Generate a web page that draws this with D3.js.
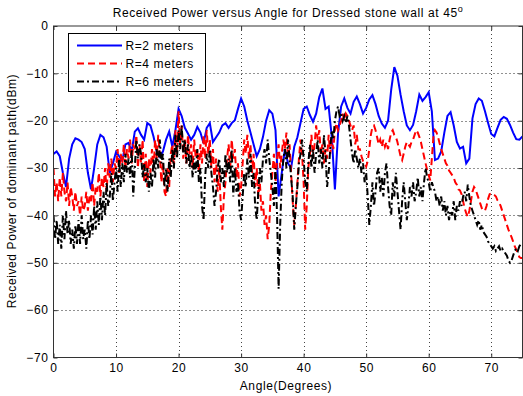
<!DOCTYPE html>
<html>
<head>
<meta charset="utf-8">
<script src="https://cdn.jsdelivr.net/npm/d3@7"></script>
<style>
html,body{margin:0;padding:0;background:#fff;}
svg{display:block;font-family:"Liberation Sans",Arial,Helvetica,sans-serif;}
</style>
</head>
<body>
<svg id="chart" width="523" height="396"></svg>
<script>
// ---------------- data ----------------
const titleText = "Received Power versus Angle for Dressed stone wall at 45";
const xLabel = "Angle(Degrees)";
const yLabel = "Received Power of dominant path(dBm)";
const seriesNames = ["R=2 meters", "R=4 meters", "R=6 meters"];
const xTicks = [0, 10, 20, 30, 40, 50, 60, 70];
const yTicks = [0, -10, -20, -30, -40, -50, -60, -70];
const xDomain = [0, 75];
const yDomain = [-70, 0];

// R=2 m, sampled every 0.5 degree from 0 to 75
const blueStep = 0.5;
const blueValues = [
 -27,-26.5,-27.5,-31,-34,-28,-25,-23.7,-24,-24.5,
 -26,-31,-34.5,-30,-25,-23,-23.5,-25.5,-31,-29,
 -26.6,-27.5,-28.5,-25,-24.7,-26.5,-22.3,-21.6,-23,-24,
 -20.5,-21,-23.4,-26.5,-27.6,-26.5,-24,-22.3,-25.5,-22,
 -17.5,-19,-21.5,-22.7,-24,-23,-21.3,-22.5,-24.8,-21.5,
 -20.5,-24.5,-23.5,-22.5,-21,-20.5,-21.5,-20.5,-19.9,-17.5,
 -15.3,-17,-20,-22.5,-25,-27.5,-26,-23.4,-20,-17.8,
 -18.5,-22,-36,-31,-26,-29,-30,-25.5,-23.5,-20.5,
 -17.5,-17,-18.8,-20.2,-18.5,-15,-13.2,-17.5,-17,-23.4,
 -34.5,-22.7,-17,-15.3,-17.3,-18.5,-16,-14.9,-16.5,-18.5,
 -17.3,-15.5,-14.6,-16.5,-19,-20.6,-21.5,-20,-13.5,-8.7,
 -10.5,-14.5,-18,-21,-22,-20.9,-18,-14.5,-15.8,-15,
 -14,-18,-28.3,-28,-26.5,-22.5,-19,-18.2,-21,-24.5,
 -25.9,-25.5,-29,-28,-19.5,-16.5,-15.3,-15.8,-18,-20.5,
 -22.8,-23.3,-21.5,-19.8,-19.2,-19.6,-20.9,-22.5,-23.9,-24,
 -23.3
];

// R=4 m and R=6 m, sampled every 0.25 degree from 0 to 75
const fineStep = 0.25;
const redValues = [
 -30,-36,-33,-37, -32,-36,-31,-35, -37,-33,-38,-34, -36,-39,-35,-38, -37,-40,-36,-39,
 -38,-35,-39,-36, -37,-33,-38,-34, -35,-31,-36,-32, -34,-30,-35,-29, -32,-28,-33,-29,
 -30,-26,-31,-27, -29,-25,-30,-26, -28,-24,-29,-25, -26,-23,-30,-25, -29,-24,-33,-27,
 -34,-28,-31,-26, -30,-24,-28,-23, -27,-33,-29,-35, -36,-30,-34,-27, -25,-30,-22,-27,
 -18,-25,-21,-28, -24,-29,-23,-27, -25,-30,-24,-28, -26,-31,-25,-29, -23,-28,-22,-27,
 -24,-30,-26,-33, -28,-35,-30,-38, -43,-36,-33,-28, -25,-30,-24,-28, -26,-32,-29,-36,
 -34,-29,-24,-27, -23,-28,-25,-31, -27,-34,-30,-36, -33,-39,-37,-42, -40,-45,-42,-35,
 -31,-27,-33,-28, -25,-30,-27,-24, -26,-22.5,-28,-25, -31,-37,-42,-38, -33,-28,-24,-27,
 -33,-43,-38,-30, -27,-23,-28,-25, -21,-24,-22,-27, -25,-29,-26,-28, -23,-27,-24,-26,
 -22,-20.5,-22,-21, -20,-18.5,-20,-18.5, -19,-20,-21,-22, -21,-25,-23,-26, -26,-27.5,-28.5,-29,
 -29.7,-28.5,-26,-23, -21.3,-21,-22,-23.5, -25,-24,-25.5,-24, -25.5,-24.5,-26,-24, -22.5,-22,-23,-23.4,
 -24.5,-26,-27.5,-28.3, -27,-25.5,-24.5,-25, -25.5,-24.5,-24,-23, -22,-22.5,-23.4,-24.5, -26,-27.5,-29,-30.4,
 -31.5,-32.6,-28,-23.5, -22,-22.5,-23.5,-24.8, -26,-27,-28,-29, -29.5,-30.5,-31,-31.5, -32,-33,-33.5,-34.5,
 -34.7,-35.5,-37,-38.5, -39.5,-40.3,-39,-37, -35,-34,-34.5,-35.5, -36.5,-37.5,-38.5,-39, -39,-38,-36.5,-35.5,
 -35.3,-35.5,-35.7,-36, -36.8,-37.2,-38,-39, -40,-41,-42,-43, -43.8,-44.6,-45.5,-46.5, -47.2,-48,-48.8,-49,
 -49
];
const blackValues = [
 -40,-45,-41,-46, -42,-47,-40,-45, -39,-44,-41,-46, -43,-47,-42,-46, -41,-46,-40,-45,
 -43,-47,-41,-45, -40,-44,-38,-43, -37,-42,-36,-41, -35,-40,-33,-38, -36,-31,-37,-33,
 -30,-35,-28,-34, -29,-33,-27,-31, -28,-32,-26,-36, -30,-24,-28,-25, -27,-32,-29,-33,
 -30,-35,-31,-34, -28,-32,-26,-30, -24,-29,-27,-34, -30,-35,-28,-32, -26,-30,-23,-28,
 -22,-26,-21,-27, -24,-29,-25,-30, -27,-32,-28,-31, -26,-33,-30,-38, -41,-32,-27,-30,
 -26,-31,-34,-38, -35,-30,-28,-33, -30,-34,-27,-31, -28,-33,-26,-36, -30,-35,-33,-39,
 -41,-36,-31,-34, -28,-32,-27,-34, -31,-38,-41,-35, -30,-33,-28,-26, -29,-24,-28,-31,
 -34,-38,-30,-40, -55.5,-42,-33,-28, -26,-30,-24,-28, -32,-36,-43,-38, -34,-29,-27,-24,
 -28,-33,-35,-29, -25,-30,-26,-31, -27,-24,-29,-26, -30,-23,-27,-34, -31,-26,-22,-24,
 -20,-18,-17,-19, -18.5,-20,-19,-20.5, -19,-21,-24,-27, -29,-26,-28,-30, -28,-31,-29,-33,
 -31,-36,-42,-38, -33,-38,-35,-31, -30,-35,-32,-36, -31,-29,-34,-38, -40,-33,-36,-31,
 -35,-39,-43,-37, -33,-37,-41,-38, -34,-36,-33,-37, -35,-32,-36,-34, -37,-33,-30,-32,
 -33,-35,-33,-34, -35,-37,-36,-38, -36,-39,-37,-40, -38,-41,-39,-40, -37,-41,-38,-39,
 -37,-38,-36,-35, -37,-33.5,-36,-38, -39,-40,-41,-42, -41,-43,-42,-43.5, -44,-44.5,-45.5,-46,
 -46.5,-47,-46.5,-47.5, -47,-46.5,-47.5,-47, -47.5,-48,-48.5,-49.5, -50,-49.5,-48.5,-47.5, -47,-47.5,-46.5,-46,
 -46
];

const seriesColors = ["#0000ff", "#ff0000", "#000000"];
const seriesDash = [null, "7,4", "7,3,2,3"];

// ---------------- chart ----------------
const svg = d3.select("#chart");
const margin = {left: 53.5, right: 522.5, top: 26, bottom: 357.5};

const x = d3.scaleLinear().domain(xDomain).range([margin.left, margin.right]);
const y = d3.scaleLinear().domain(yDomain).range([margin.bottom, margin.top]);

svg.append("defs").append("clipPath").attr("id", "clip")
  .append("rect").attr("x", margin.left).attr("y", margin.top)
  .attr("width", margin.right - margin.left).attr("height", margin.bottom - margin.top);

// grid
const grid = svg.append("g").attr("class", "grid");
grid.selectAll("line.vg").data(xTicks.filter(d => d > xDomain[0] && d < xDomain[1])).join("line")
  .attr("x1", d => Math.round(x(d)) + 0.5).attr("x2", d => Math.round(x(d)) + 0.5)
  .attr("y1", margin.top).attr("y2", margin.bottom)
  .attr("stroke", "#444").attr("stroke-width", 1).attr("stroke-dasharray", "1,3");
grid.selectAll("line.hg").data(yTicks.filter(d => d > yDomain[0] && d < yDomain[1])).join("line")
  .attr("y1", d => Math.round(y(d)) + 0.5).attr("y2", d => Math.round(y(d)) + 0.5)
  .attr("x1", margin.left).attr("x2", margin.right)
  .attr("stroke", "#222").attr("stroke-width", 1).attr("stroke-dasharray", "1,3");

// series
const blueData = blueValues.map((v, i) => [i * blueStep, v]);
const redData = redValues.map((v, i) => [i * fineStep, v]);
const blackData = blackValues.map((v, i) => [i * fineStep, v]);
const allSeries = [blueData, redData, blackData];

const line = d3.line().x(d => x(d[0])).y(d => y(d[1]));
const plot = svg.append("g").attr("clip-path", "url(#clip)");
allSeries.forEach((s, i) => {
  plot.append("path").datum(s)
    .attr("d", line)
    .attr("fill", "none")
    .attr("stroke", seriesColors[i])
    .attr("stroke-width", 2)
    .attr("stroke-linejoin", "miter")
    .attr("stroke-dasharray", seriesDash[i]);
});

// axes
const fontSize = 12;
const axisColor = "#333";
function styleAxis(g, showText) {
  g.select(".domain").remove();
  g.selectAll(".tick line").attr("stroke", axisColor);
  g.selectAll(".tick text").attr("fill", "#000").attr("font-size", fontSize)
    .attr("font-family", "'Liberation Sans', Arial, sans-serif")
    .style("letter-spacing", "0.6px");
  if (!showText) g.selectAll(".tick text").remove();
}
svg.append("g").attr("transform", `translate(0,${margin.bottom})`)
  .call(d3.axisBottom(x).tickValues(xTicks).tickFormat(d3.format("d")).tickSizeInner(-4).tickSizeOuter(0).tickPadding(6))
  .call(g => styleAxis(g, true));
svg.append("g").attr("transform", `translate(0,${margin.top})`)
  .call(d3.axisTop(x).tickValues(xTicks).tickSizeInner(-4).tickSizeOuter(0))
  .call(g => styleAxis(g, false));
svg.append("g").attr("transform", `translate(${margin.left},0)`)
  .call(d3.axisLeft(y).tickValues(yTicks).tickFormat(d3.format("d")).tickSizeInner(-4).tickSizeOuter(0).tickPadding(5))
  .call(g => styleAxis(g, true));
svg.append("g").attr("transform", `translate(${margin.right},0)`)
  .call(d3.axisRight(y).tickValues(yTicks).tickSizeInner(-4).tickSizeOuter(0))
  .call(g => styleAxis(g, false));

// box
svg.append("rect").attr("x", margin.left).attr("y", margin.top)
  .attr("width", margin.right - margin.left).attr("height", margin.bottom - margin.top)
  .attr("fill", "none").attr("stroke", axisColor).attr("stroke-width", 1);

// title
const title = svg.append("text").attr("x", (margin.left + margin.right) / 2).attr("y", 16.5)
  .attr("text-anchor", "middle").attr("font-size", fontSize).style("letter-spacing", "0.6px");
title.append("tspan").text(titleText);
title.append("tspan").attr("font-size", 9).attr("dy", -5).text("o");

// axis labels
svg.append("text").attr("x", 286).attr("y", 390).attr("text-anchor", "middle")
  .attr("font-size", fontSize).style("letter-spacing", "0.6px").text(xLabel);
svg.append("text").attr("transform", "translate(16,191) rotate(-90)").attr("text-anchor", "middle")
  .attr("font-size", fontSize).style("letter-spacing", "0.6px").text(yLabel);

// legend
const lg = svg.append("g");
lg.append("rect").attr("x", 68.5).attr("y", 33.5).attr("width", 137).attr("height", 58)
  .attr("fill", "#fff").attr("stroke", "#000").attr("stroke-width", 1);
seriesNames.forEach((n, i) => {
  const yy = 45.5 + i * 18;
  lg.append("line").attr("x1", 77).attr("x2", 122).attr("y1", yy).attr("y2", yy)
    .attr("stroke", seriesColors[i]).attr("stroke-width", 2).attr("stroke-dasharray", seriesDash[i]);
  lg.append("text").attr("x", 125.5).attr("y", yy + 4.5).attr("font-size", fontSize)
    .style("letter-spacing", "0.6px").text(n);
});
</script>
</body>
</html>
